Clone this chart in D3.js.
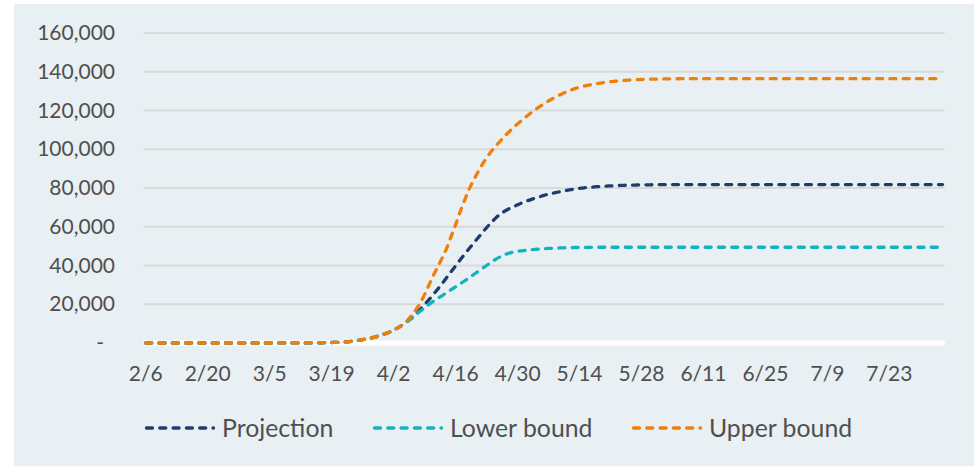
<!DOCTYPE html>
<html><head><meta charset="utf-8">
<script src="https://cdn.jsdelivr.net/npm/d3@7"></script>
<style>html,body{margin:0;padding:0;background:#fff;}svg{display:block;}</style>
</head><body>
<svg id="chart" width="978" height="466"></svg>
<script>
// ---------- DATA ----------
const startDate = new Date(2020, 1, 6);   // 2/6/2020
const endDate = new Date(2020, 7, 5);     // exclusive -> last day 8/4
const xTickLabels = ["2/6","2/20","3/5","3/19","4/2","4/16","4/30","5/14","5/28","6/11","6/25","7/9","7/23"];
const yTicks = [0,20000,40000,60000,80000,100000,120000,140000,160000];
const seriesNames = ["Projection","Lower bound","Upper bound"];
const seriesColors = ["#1e3c6e","#14b2be","#f07f0a"];

const projection = [
0,0,0,0,0,0,0,0,0,0,
0,0,0,0,0,0,0,0,0,0,
0,0,0,1,1,2,6,9,11,12,
15,19,22,26,30,38,41,48,57,90,
130,180,250,330,430,570,750,1000,1300,1700,
2100,2600,3200,3900,4700,5600,6700,7900,9300,11000,
13000,15000,17300,19800,22400,25100,27900,30800,33800,36800,
39800,42800,45700,48500,51300,54100,56800,59500,62000,64300,
66300,67900,69200,70300,71300,72300,73200,74000,74800,75500,
76200,76800,77300,77800,78300,78700,79100,79500,79800,80100,
80300,80500,80700,80850,81000,81100,81200,81300,81400,81450,
81500,81550,81600,81630,81660,81690,81710,81730,81745,81755,
81760,81766,81766,81766,81766,81766,81766,81766,81766,81766,
81766,81766,81766,81766,81766,81766,81766,81766,81766,81766,
81766,81766,81766,81766,81766,81766,81766,81766,81766,81766,
81766,81766,81766,81766,81766,81766,81766,81766,81766,81766,
81766,81766,81766,81766,81766,81766,81766,81766,81766,81766,
81766,81766,81766,81766,81766,81766,81766,81766,81766,81766,
81766
];

const lowerBound = [
0,0,0,0,0,0,0,0,0,0,
0,0,0,0,0,0,0,0,0,0,
0,0,0,1,1,2,6,9,11,12,
15,19,22,26,30,38,41,48,57,90,
130,180,250,330,430,570,750,1000,1300,1700,
2100,2600,3200,3900,4700,5600,6700,7900,9300,10900,
12500,14500,16400,18200,19900,21500,23000,24500,26000,27500,
29000,30500,32000,33600,35200,36800,38400,40000,41600,43100,
44400,45500,46300,46900,47300,47600,47900,48100,48300,48500,
48650,48800,48900,49000,49100,49170,49230,49280,49320,49350,
49380,49400,49410,49420,49425,49431,49431,49431,49431,49431,
49431,49431,49431,49431,49431,49431,49431,49431,49431,49431,
49431,49431,49431,49431,49431,49431,49431,49431,49431,49431,
49431,49431,49431,49431,49431,49431,49431,49431,49431,49431,
49431,49431,49431,49431,49431,49431,49431,49431,49431,49431,
49431,49431,49431,49431,49431,49431,49431,49431,49431,49431,
49431,49431,49431,49431,49431,49431,49431,49431,49431,49431,
49431,49431,49431,49431,49431,49431,49431,49431,49431,49431,
49431
];

const upperBound = [
0,0,0,0,0,0,0,0,0,0,
0,0,0,0,0,0,0,0,0,0,
0,0,0,1,1,2,6,9,11,12,
15,19,22,26,30,38,41,48,57,90,
130,180,250,330,430,570,750,1000,1300,1700,
2100,2600,3200,3900,4700,5600,6700,7900,9300,11300,
14000,17000,20500,25000,30000,35000,39500,44000,49000,55000,
61000,67500,73500,79000,83800,88000,92000,95500,98700,101500,
104000,106500,108800,111000,113100,115000,116900,118700,120400,122000,
123500,124900,126200,127400,128500,129600,130500,131300,132000,132600,
133100,133500,133900,134300,134600,134900,135100,135300,135500,135700,
135800,135900,136000,136100,136150,136200,136250,136300,136340,136370,
136390,136401,136401,136401,136401,136401,136401,136401,136401,136401,
136401,136401,136401,136401,136401,136401,136401,136401,136401,136401,
136401,136401,136401,136401,136401,136401,136401,136401,136401,136401,
136401,136401,136401,136401,136401,136401,136401,136401,136401,136401,
136401,136401,136401,136401,136401,136401,136401,136401,136401,136401,
136401,136401,136401,136401,136401,136401,136401,136401,136401,136401,
136401
];

// ---------- CHART ----------
const fmtDay = d3.timeFormat("%-m/%-d");
const dates = d3.timeDay.range(startDate, endDate).map(fmtDay);
const series = [projection, lowerBound, upperBound];

const svg = d3.select("#chart");
const font = "Lato, 'Open Sans', sans-serif";
const textColor = "#4f4f4f";

svg.append("rect").attr("x", 14).attr("y", 4).attr("width", 960).attr("height", 462).attr("fill", "#e8f0f3");

const x = d3.scaleBand().domain(dates).range([143.5, 944.7]).padding(0);
const y = d3.scaleLinear().domain([0, 160000]).range([343, 33]);
const cx = d => x(d) + x.bandwidth() / 2;

// gridlines
svg.append("g").selectAll("line").data(yTicks.filter(t => t > 0)).join("line")
  .attr("x1", 143.5).attr("x2", 944.7)
  .attr("y1", d => y(d)).attr("y2", d => y(d))
  .attr("stroke", "#d9d9d9").attr("stroke-width", 2);
svg.append("line").attr("x1", 143.5).attr("x2", 944.7)
  .attr("y1", y(0)).attr("y2", y(0)).attr("stroke", "#ffffff").attr("stroke-width", 5);

// y axis
const yAxis = svg.append("g").attr("transform", "translate(143,0)")
  .call(d3.axisLeft(y).tickValues(yTicks).tickSize(0).tickPadding(28)
    .tickFormat(d => d === 0 ? "-" : d3.format(",")(d)));
yAxis.select(".domain").remove();
yAxis.selectAll("text").attr("font-family", font).attr("font-size", 21).attr("fill", textColor)
  .attr("dx", d => d === 0 ? -11 : 0);

// x axis
const xAxis = svg.append("g").attr("transform", `translate(0,${y(0)})`)
  .call(d3.axisBottom(x).tickValues(xTickLabels).tickSize(0).tickPadding(23));
xAxis.select(".domain").remove();
xAxis.selectAll("text").attr("font-family", font).attr("font-size", 21).attr("fill", textColor);

// lines
const line = d3.line().x((v, i) => cx(dates[i])).y(v => y(v)).curve(d3.curveMonotoneX);
svg.append("g").selectAll("path").data(series).join("path")
  .attr("d", d => line(d))
  .attr("fill", "none")
  .attr("stroke", (d, i) => seriesColors[i])
  .attr("stroke-width", 3.3)
  .attr("stroke-linecap", "round")
  .attr("stroke-dasharray", "6,7.3");

// legend
const legendX = [145, 373, 632];
const legendY = 428;
const lg = svg.append("g").selectAll("g").data(seriesNames).join("g")
  .attr("transform", (d, i) => `translate(${legendX[i]},${legendY})`);
lg.append("line").attr("x1", 1.5).attr("x2", 68.5).attr("y1", 0).attr("y2", 0)
  .attr("stroke", (d, i) => seriesColors[i]).attr("stroke-width", 3.3)
  .attr("stroke-linecap", "round").attr("stroke-dasharray", "6,7.3");
lg.append("text").attr("x", 77).attr("y", 0).attr("dy", "0.36em")
  .attr("font-family", font).attr("font-size", 24.8).attr("fill", textColor)
  .text(d => d);
</script>
</body></html>
